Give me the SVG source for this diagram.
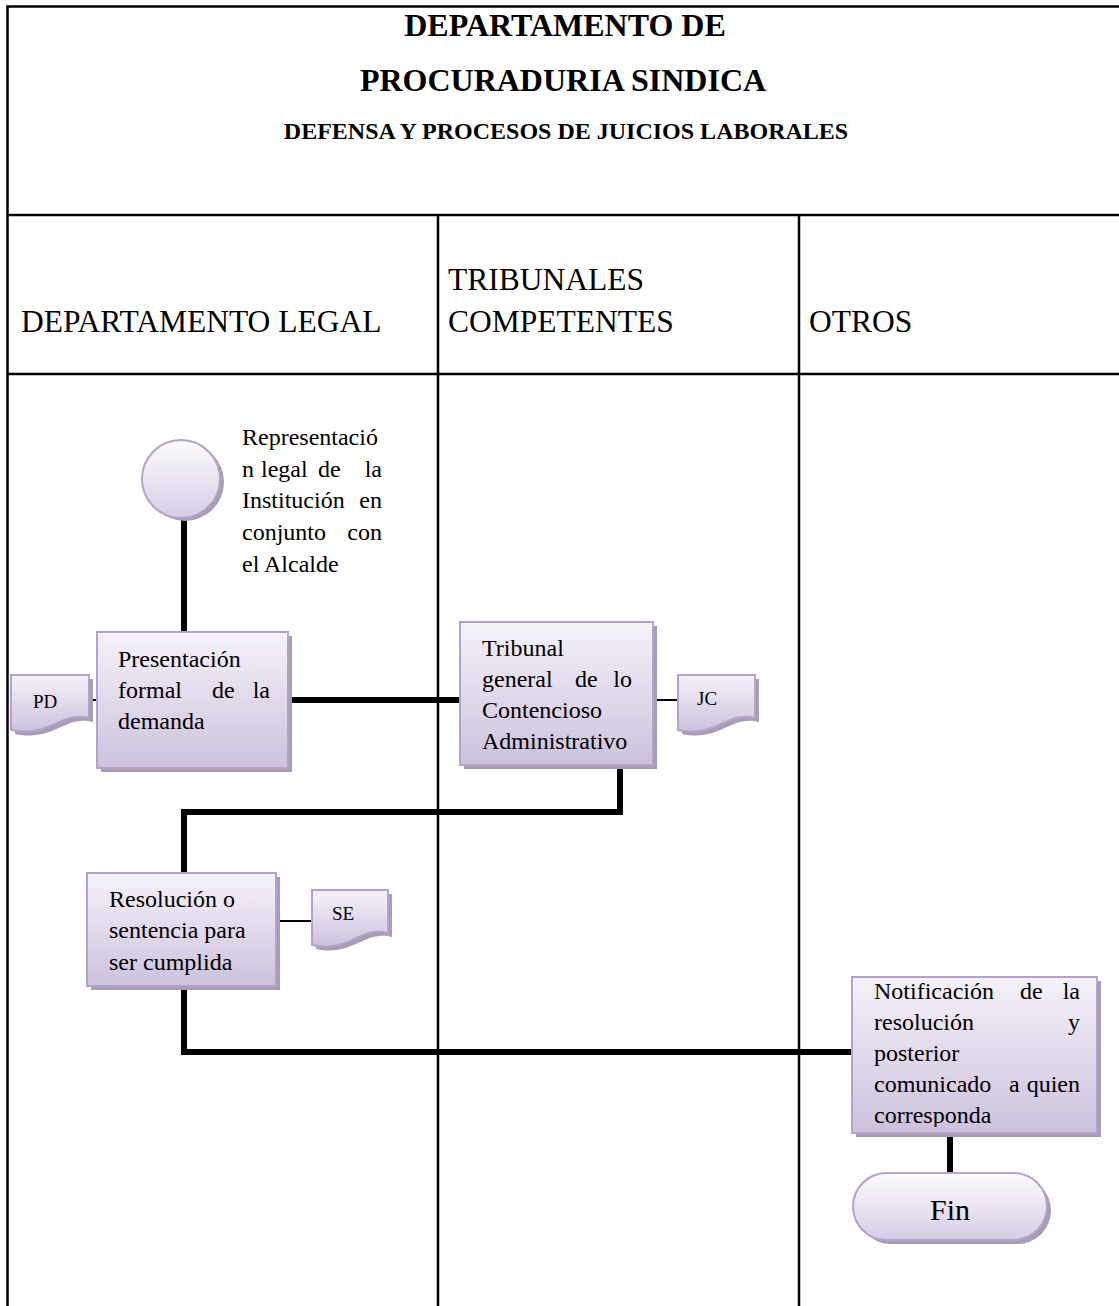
<svg xmlns="http://www.w3.org/2000/svg" width="1119" height="1306" viewBox="0 0 1119 1306">
  <style>
    text { font-family: "Liberation Serif", "Times New Roman", serif; fill: #000; }
    .title { font-size: 32px; font-weight: bold; }
    .sub { font-size: 24px; font-weight: bold; }
    .lane { font-size: 31.5px; }
    .body { font-size: 24px; }
    .doc { font-size: 19px; }
    .grid { stroke: #000; stroke-width: 2.5; fill: none; }
    .flow { stroke: #000; stroke-width: 6; fill: none; stroke-linejoin: miter; stroke-linecap: butt; }
    .thin { stroke: #000; stroke-width: 2; fill: none; }
    .box { fill: url(#boxFill); stroke: #b3a3cc; stroke-width: 2; }
    .shadow { fill: #a89db5; }
  </style>
  <defs>
    <linearGradient id="boxFill" x1="0" y1="0" x2="0" y2="1">
      <stop offset="0" stop-color="#f5f2f9"/>
      <stop offset="1" stop-color="#cdc1dd"/>
    </linearGradient>
    <linearGradient id="roundFill" x1="0" y1="0" x2="0" y2="1">
      <stop offset="0" stop-color="#fdfcfe"/>
      <stop offset="1" stop-color="#d6cce4"/>
    </linearGradient>
  </defs>

  <rect width="1119" height="1306" fill="#fff"/>

  <!-- table frame and swimlanes -->
  <g id="frame">
    <path class="grid" d="M7.5 1306 V6.5 H1119"/>
    <path class="grid" d="M7.5 215 H1119"/>
    <path class="grid" d="M7.5 374 H1119"/>
    <path class="grid" d="M438 215 V1306"/>
    <path class="grid" d="M799 215 V1306"/>
  </g>

  <g id="titles">
    <text class="title" x="565" y="36" text-anchor="middle">DEPARTAMENTO DE</text>
    <text class="title" x="563" y="91" text-anchor="middle">PROCURADURIA SINDICA</text>
    <text class="sub" x="566" y="139" text-anchor="middle">DEFENSA Y PROCESOS DE JUICIOS LABORALES</text>
  </g>

  <g id="lanes">
    <text class="lane" x="21" y="332">DEPARTAMENTO LEGAL</text>
    <text class="lane" x="448" y="290">TRIBUNALES</text>
    <text class="lane" x="448" y="332">COMPETENTES</text>
    <text class="lane" x="809" y="332">OTROS</text>
  </g>

  <!-- connectors -->
  <g id="connectors">
    <path class="flow" d="M184 518 V632"/>
    <path class="flow" d="M290 700 H460"/>
    <path class="flow" d="M620 767 V812 H184 V873"/>
    <path class="flow" d="M184 988 V1052 H852"/>
    <path class="flow" d="M950 1135 V1173"/>
    <path class="thin" d="M89 700 H97"/>
    <path class="thin" d="M653 700 H678"/>
    <path class="thin" d="M279 921 H312"/>
  </g>

  <!-- start -->
  <g id="start">
    <circle cx="185" cy="482" r="39" class="shadow"/>
    <circle cx="181" cy="479" r="39" fill="url(#roundFill)" stroke="#b3a3cc" stroke-width="2"/>
    <text class="body" x="242" y="445">Representació</text>
    <text class="body" y="477"><tspan x="242">n</tspan><tspan x="261">legal</tspan><tspan x="318">de</tspan><tspan x="382" text-anchor="end">la</tspan></text>
    <text class="body" y="508"><tspan x="242">Institución</tspan><tspan x="382" text-anchor="end">en</tspan></text>
    <text class="body" y="540"><tspan x="242">conjunto</tspan><tspan x="382" text-anchor="end">con</tspan></text>
    <text class="body" x="242" y="572">el Alcalde</text>
  </g>

  <!-- presentación de la demanda -->
  <g id="presentacion">
    <rect x="101" y="636" width="191" height="136" class="shadow"/>
    <rect x="97" y="632" width="191" height="136" class="box"/>
    <text class="body" x="118" y="667">Presentación</text>
    <text class="body" y="698"><tspan x="118">formal</tspan><tspan x="212">de</tspan><tspan x="270" text-anchor="end">la</tspan></text>
    <text class="body" x="118" y="729">demanda</text>
  </g>

  <g id="doc-pd">
    <path class="shadow" d="M15 679 H93 V722 C64 715 55 742 15 734 Z"/>
    <path class="box" d="M11 675 H89 V718 C60 711 51 738 11 730 Z"/>
    <text class="doc" x="33" y="708">PD</text>
  </g>

  <!-- tribunal -->
  <g id="tribunal">
    <rect x="464" y="626" width="193" height="143" class="shadow"/>
    <rect x="460" y="622" width="193" height="143" class="box"/>
    <text class="body" x="482" y="656">Tribunal</text>
    <text class="body" y="687"><tspan x="482">general</tspan><tspan x="575">de</tspan><tspan x="632" text-anchor="end">lo</tspan></text>
    <text class="body" x="482" y="718">Contencioso</text>
    <text class="body" x="482" y="749">Administrativo</text>
  </g>

  <g id="doc-jc">
    <path class="shadow" d="M682 679 H759 V722 C730 715 721 742 682 734 Z"/>
    <path class="box" d="M678 675 H755 V718 C726 711 717 738 678 730 Z"/>
    <text class="doc" x="697" y="705">JC</text>
  </g>

  <!-- resolución -->
  <g id="resolucion">
    <rect x="91" y="877" width="189" height="113" class="shadow"/>
    <rect x="87" y="873" width="189" height="113" class="box"/>
    <text class="body" x="109" y="907">Resolución o</text>
    <text class="body" x="109" y="938">sentencia para</text>
    <text class="body" x="109" y="970">ser cumplida</text>
  </g>

  <g id="doc-se">
    <path class="shadow" d="M316 894 H392 V937 C363 930 354 957 316 949 Z"/>
    <path class="box" d="M312 890 H388 V933 C359 926 350 953 312 945 Z"/>
    <text class="doc" x="332" y="920">SE</text>
  </g>

  <!-- notificación -->
  <g id="notificacion">
    <rect x="856" y="981" width="245" height="156" class="shadow"/>
    <rect x="852" y="977" width="245" height="156" class="box"/>
    <svg x="852" y="977" width="245" height="150" overflow="hidden">
      <text class="body" y="22"><tspan x="22">Notificación</tspan><tspan x="168">de</tspan><tspan x="228" text-anchor="end">la</tspan></text>
      <text class="body" y="53"><tspan x="22">resolución</tspan><tspan x="228" text-anchor="end">y</tspan></text>
      <text class="body" x="22" y="84">posterior</text>
      <text class="body" y="115"><tspan x="22">comunicado</tspan><tspan x="157">a</tspan><tspan x="228" text-anchor="end">quien</tspan></text>
      <text class="body" x="22" y="146">corresponda</text>
    </svg>
  </g>

  <!-- fin -->
  <g id="fin">
    <rect x="857" y="1177" width="194" height="67" rx="33.5" class="shadow"/>
    <rect x="853" y="1173" width="194" height="67" rx="33.5" fill="url(#roundFill)" stroke="#b3a3cc" stroke-width="2"/>
    <text x="950" y="1220" text-anchor="middle" style="font-size:30px">Fin</text>
  </g>
</svg>
